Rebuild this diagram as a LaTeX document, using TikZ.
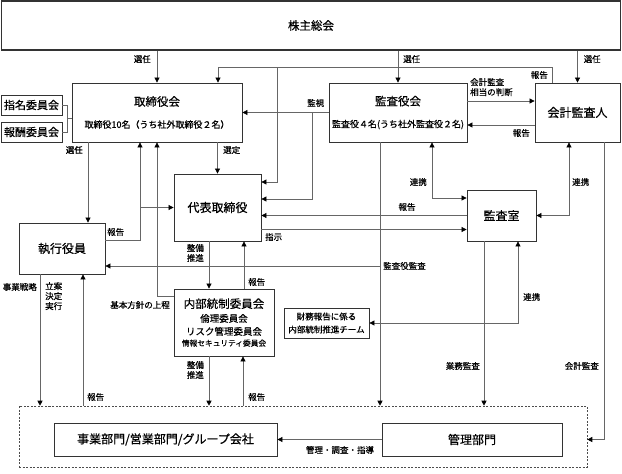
\documentclass[tikz,border=0pt]{standalone}
\usepackage{fontspec}
\setmainfont{Noto Sans CJK JP}[FakeBold=0.6]
\usetikzlibrary{calc,positioning,arrows.meta}
\newcommand{\fsz}[2]{\fontsize{#1}{#2}\selectfont}

\begin{document}
\begin{tikzpicture}[x=1pt,y=-1pt,
  box/.style={draw=black!80, line width=0.8pt, inner sep=0pt, align=center, fill=white},
  wire/.style={draw=black!60, line width=0.7pt},
  arr/.style={wire, -{Triangle[length=5pt,width=5pt,black]}},
  arrs/.style={wire, {Triangle[length=5pt,width=5pt,black]}-{Triangle[length=5pt,width=5pt,black]}},
  lbl/.style={inner sep=0pt, font=\fsz{8.5}{10}, align=left},
  grp/.style={draw=black!70, dash pattern=on 2pt off 1.5pt, line width=0.6pt, inner sep=0pt}]

\useasboundingbox (0,0) rectangle (622,474);

% dashed frame round the departments
\node[grp, minimum width=568pt, minimum height=61pt] (group) at (303,436.5) {};

% boxes
\node[box, line width=1.2pt, minimum width=619pt, minimum height=49pt, font=\fsz{11.5}{14}] (soukai) at (311,25.5) {株主総会};
\node[box, minimum width=170pt, minimum height=59pt] (torikai) at (157,112.5) {\fsz{11.5}{14}取締役会\\[10pt]\fsz{9}{12}取締役10名（うち社外取締役２名）};
\node[box, minimum width=61pt, minimum height=20pt, font=\fsz{11}{13}] (shimei) at (31.5,105) {指名委員会};
\node[box, minimum width=61pt, minimum height=20pt, font=\fsz{11}{13}] (houshu) at (31.5,132) {報酬委員会};
\node[box, minimum width=138pt, minimum height=59pt] (kansakai) at (398,112.5) {\fsz{11.5}{14}監査役会\\[10pt]\fsz{9}{12}監査役４名(うち社外監査役２名)};
\node[box, minimum width=85pt, minimum height=59pt, font=\fsz{12}{14}] (kaikei) at (577.5,112.5) {会計監査人};
\node[box, minimum width=87pt, minimum height=67pt, font=\fsz{12}{14}] (daihyo) at (217.5,207.5) {代表取締役};
\node[box, minimum width=86pt, minimum height=51pt, font=\fsz{12}{14}] (shikko) at (62,248.5) {執行役員};
\node[box, minimum width=69pt, minimum height=51pt, font=\fsz{12}{14}] (shitsu) at (501.5,215.5) {監査室};
\node[box, minimum width=100pt, minimum height=67pt] (naibu) at (224,322.5) {\fsz{11.5}{14}内部統制委員会\\[2pt]\fsz{9.5}{12}倫理委員会\\[1pt]\fsz{9.5}{12}リスク管理委員会\\[-1pt]\fsz{7.7}{13}情報セキュリティ委員会};
\node[box, minimum width=85pt, minimum height=30pt, font=\fsz{8.5}{13}] (zaimu) at (326.5,323) {財務報告に係る\\内部統制推進チーム};
\node[box, minimum width=223pt, minimum height=33pt, font=\fsz{12}{14}] (jigyo) at (165.5,439.5) {事業部門/営業部門/グループ会社};
\node[box, minimum width=180pt, minimum height=33pt, font=\fsz{12}{14}] (kanri) at (472,439.5) {管理部門};

% election by the shareholders
\foreach \n/\s/\a in {torikai/-6/east, kansakai/5/west, kaikei/6/west} {
    \draw[arr] (soukai.south -| \n.north) -- (\n.north);
    \node[lbl, anchor=\a] (sen\n) at ([xshift=\s pt, yshift=7.5pt]$(soukai.south -| \n.north)!.5!(\n.north)$) {選任};
}

% committees bracket
\coordinate (bm) at ($(shimei.east)!.5!(houshu.east)+(5,0)$);
\draw[wire] (shimei.east) -| (bm) |- (houshu.east);
\draw[wire] (bm) -- (bm -| torikai.west);

% report of the accounting auditor
\coordinate (k1) at (277,67);
\draw[arr] ([xshift=-25.5pt]kaikei.north) |- ([xshift=61pt]torikai.north |- k1) -- ([xshift=61pt]torikai.north);
\draw[arr] (k1) |- ([yshift=25.5pt]daihyo.east);
\node[lbl, anchor=east] (rep1) at (548,75) {報告};

% supervision
\coordinate (m1) at (312,112.5);
\draw[arr] (kansakai.west) -- (torikai.east);
\draw[arr] (m1) |- ([yshift=8.5pt]daihyo.east);
\node[lbl, anchor=west] (kanshi) at (307,103) {監視};

% between the auditors
\draw[arr] ([yshift=11.5pt]kansakai.east) -- ([yshift=11.5pt]kaikei.west);
\node[lbl, anchor=north west] (soutou) at (470,78) {会計監査\\相当の判断};
\draw[arr] ([yshift=-12.5pt]kaikei.west) -- ([yshift=-12.5pt]kansakai.east);
\node[lbl, anchor=east] (rep2) at (530,133) {報告};

% board and executives
\draw[arr] (torikai.south -| daihyo.north) -- (daihyo.north);
\node[lbl, anchor=west] (sentei) at (223,150) {選定};
\draw[arr] ([xshift=26pt]shikko.north |- torikai.south) -- ([xshift=26pt]shikko.north);
\node[lbl, anchor=east] (sennin4) at (83,150) {選任};
\path ([xshift=-17pt]torikai.south) coordinate (t1);
\draw[arr] ([yshift=8.5pt]shikko.east) -| (t1);
\draw[arr] (daihyo.west -| t1) -- (daihyo.west);
\node[lbl, anchor=west] (rep3) at (107,232) {報告};
\draw[arr] ([yshift=26.5pt]naibu.west) -| (torikai.south);
\node[lbl, anchor=east] (kihon) at (170,305) {基本方針の上程};

% audit office
\draw[arr] (shitsu.west) -- (shitsu.west -| daihyo.east);
\node[lbl] (rep4) at (407,207) {報告};
\draw[arr] ([yshift=-22pt]daihyo.east) -- ([yshift=-22pt]daihyo.east -| shitsu.west);
\node[lbl, anchor=west] (shiji) at (265,237) {指示};
\draw[arrs] ([xshift=34pt]kansakai.south) |- ([yshift=17.5pt]shitsu.west);
\node[lbl, anchor=east] (ren1) at (427,182) {連携};
\draw[arrs] ([xshift=-8.5pt]kaikei.south) |- (shitsu.east);
\node[lbl, anchor=west] (ren2) at (572,182) {連携};
\draw[arrs] ([xshift=16.5pt]shitsu.south) |- (zaimu.east);
\node[lbl, anchor=west] (ren3) at (523,297) {連携};

% audits down to the departments
\path ([xshift=-18pt]kansakai.south) coordinate (ks);
\draw[arr] (ks) -- (ks |- group.north);
\draw[arr] ([yshift=-17.5pt]shikko.east -| ks) -- ([yshift=-17.5pt]shikko.east);
\node[lbl, anchor=west] (kansayaku) at (383,266) {監査役監査};
\draw[arr] ([xshift=-17.5pt]shitsu.south) -- ([xshift=-17.5pt]shitsu.south |- group.north);
\node[lbl, anchor=east] (gyomu) at (480,366) {業務監査};
\draw[arr] ([xshift=26.5pt]kaikei.south) |- (group.east |- kanri.east);
\node[lbl, anchor=east] (kaikeikansa) at (599,366) {会計監査};

% internal control
\draw[arr] ([xshift=-8.5pt]daihyo.south) -- ([xshift=-8.5pt]daihyo.south |- naibu.north);
\node[lbl, anchor=east, align=center] (seibi1) at (204,253) {整備\\推進};
\draw[arr] ([xshift=20pt]naibu.north) -- ([xshift=20pt]naibu.north |- daihyo.south);
\node[lbl, anchor=west] (rep5) at (248,282) {報告};
\draw[arr] ([xshift=-15pt]naibu.south) -- ([xshift=-15pt]naibu.south |- group.north);
\node[lbl, anchor=east, align=center] (seibi2) at (204,370) {整備\\推進};
\draw[arr] ([xshift=19pt]naibu.south |- group.north) -- ([xshift=19pt]naibu.south);
\node[lbl, anchor=west] (rep6) at (248,397) {報告};

% executives and departments
\draw[arr] ([xshift=-22pt]shikko.south) -- ([xshift=-22pt]shikko.south |- group.north);
\node[lbl, anchor=east] (senryaku) at (37,287) {事業戦略};
\node[lbl, anchor=north west] (ritsuan) at (45,282) {立案\\決定\\実行};
\draw[arr] ([xshift=21pt]shikko.south |- group.north) -- ([xshift=21pt]shikko.south);
\node[lbl, anchor=west] (rep7) at (87,397) {報告};

\draw[arr] (kanri.west) -- (jigyo.east);
\node[lbl] (shido) at (340,450) {管理・調査・指導};

\end{tikzpicture}
\end{document}
